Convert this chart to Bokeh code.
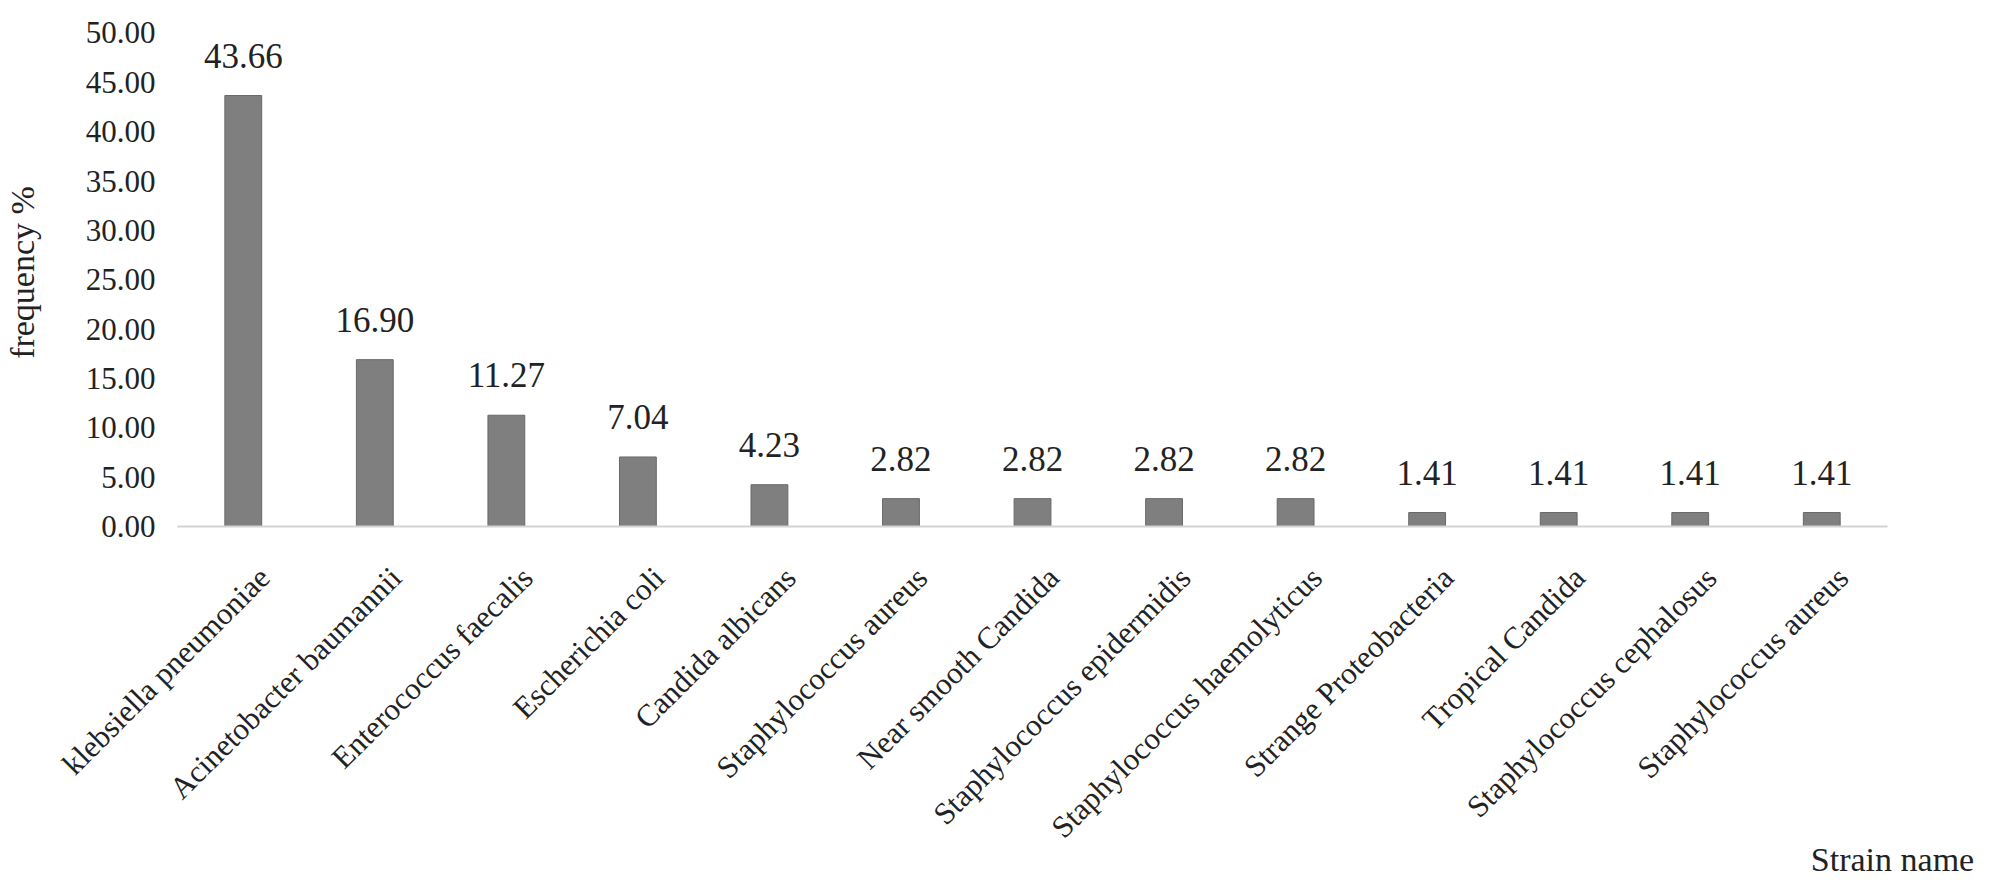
from bokeh.plotting import figure
from bokeh.models import ColumnDataSource, Range1d, LabelSet, Label
from bokeh.embed import file_html
from bokeh.resources import INLINE
import math

# ---- data ----
strains = [
    "klebsiella pneumoniae",
    "Acinetobacter baumannii",
    "Enterococcus faecalis",
    "Escherichia coli",
    "Candida albicans",
    "Staphylococcus aureus",
    "Near smooth Candida",
    "Staphylococcus epidermidis",
    "Staphylococcus haemolyticus",
    "Strange Proteobacteria",
    "Tropical Candida",
    "Staphylococcus cephalosus",
    "Staphylococcus aureus",
]
frequency = [43.66, 16.90, 11.27, 7.04, 4.23, 2.82, 2.82, 2.82, 2.82,
             1.41, 1.41, 1.41, 1.41]
y_ticks = [0, 5, 10, 15, 20, 25, 30, 35, 40, 45, 50]
y_title = "frequency %"
x_title = "Strain name"

FONT = "Liberation Serif"
TXT = "#222222"

n = len(strains)
idx = list(range(n))
src = ColumnDataSource(dict(
    x=idx,
    name=strains,
    val=frequency,
    lab=[f"{v:.2f}" for v in frequency],
    zero=[0] * n,
))
tick_src = ColumnDataSource(dict(
    x=[-0.5] * len(y_ticks),
    y=y_ticks,
    lab=[f"{t:.2f}" for t in y_ticks],
))

W, H = 2007, 887
# The plot frame fills the whole canvas so that nothing is clipped;
# category slots span 177..1887 px, value 0..50 spans 526..32 px.
p = figure(width=W, height=H,
           x_range=Range1d(-0.5 - 1.3456, n - 0.5 + 0.912),
           y_range=Range1d(-36.58, 53.29),
           output_backend="svg", toolbar_location=None,
           min_border=0)
p.outline_line_color = None
p.grid.visible = False
p.xaxis.visible = False
p.yaxis.visible = False
p.background_fill_color = "white"
p.border_fill_color = "white"

p.vbar(x="x", top="val", width=0.28, bottom=0, source=src,
       fill_color="#7f7f7f", line_color="#686868", line_width=1)

# category axis baseline
p.segment(x0=[-0.5], y0=[0], x1=[n - 0.5], y1=[0], line_color="#d3d3d3", line_width=2)

# value axis tick labels
p.add_layout(LabelSet(x="x", y="y", text="lab", source=tick_src,
                      x_offset=-22, text_align="right", text_baseline="middle",
                      text_font=FONT, text_font_size="31px", text_color=TXT))

# value labels above bars
p.add_layout(LabelSet(x="x", y="val", text="lab", source=src,
                      y_offset=28, text_align="center", text_baseline="alphabetic",
                      text_font=FONT, text_font_size="35px", text_color=TXT))

# rotated category labels
p.add_layout(LabelSet(x="x", y="zero", text="name", source=src,
                      x_offset=21, y_offset=-46, angle=math.pi / 4,
                      text_align="right", text_baseline="middle",
                      text_font=FONT, text_font_size="31px", text_color=TXT))

# axis titles
p.add_layout(Label(x=22, y=H - 272, x_units="screen", y_units="screen",
                   text=y_title, angle=math.pi / 2, text_align="center",
                   text_baseline="middle", text_font=FONT,
                   text_font_size="34px", text_color=TXT))
p.add_layout(Label(x=1892, y=28, x_units="screen", y_units="screen",
                   text=x_title, text_align="center", text_baseline="alphabetic",
                   text_font=FONT, text_font_size="34px", text_color=TXT))

open("out.html", "w").write(file_html(p, INLINE))
